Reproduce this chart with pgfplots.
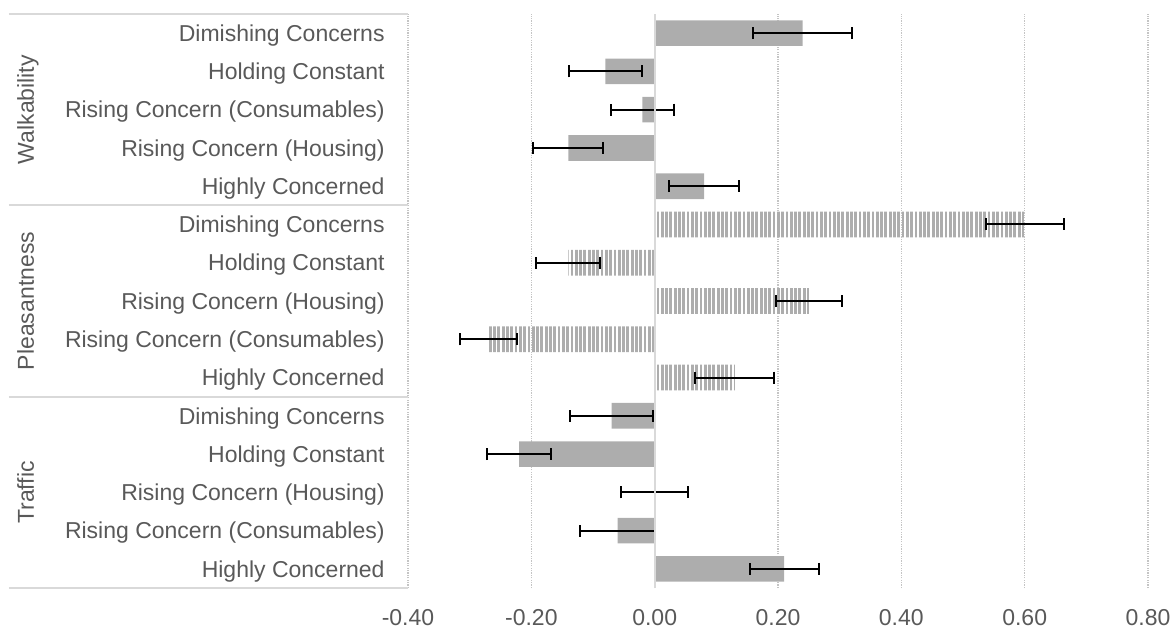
\documentclass[border=0pt]{standalone}
\usepackage{fontspec}
\setmainfont{Liberation Sans}
\usepackage{pgfplots}
\pgfplotsset{compat=1.18}
\usetikzlibrary{patterns.meta}
\definecolor{barcol}{HTML}{ADADAD}
\definecolor{txtcol}{HTML}{595959}
\definecolor{gridcol}{HTML}{C4C4C4}
\definecolor{sepcol}{HTML}{D9D9D9}
\pgfplotstableread{
y v e
14 0.24 0.080
13 -0.08 0.059
12 -0.02 0.051
11 -0.14 0.057
10 0.08 0.056
4 -0.07 0.067
3 -0.22 0.052
2 0.00 0.054
1 -0.06 0.061
0 0.21 0.056
}\solid
\pgfplotstableread{
y v e
9 0.60 0.063
8 -0.14 0.052
7 0.25 0.053
6 -0.27 0.046
5 0.13 0.064
}\striped
\newcommand{\lblfont}{\fontsize{11.5}{13.8}\selectfont}
\begin{document}
\begin{tikzpicture}
\useasboundingbox (-204pt,-20pt) rectangle (384pt,294pt);
\begin{axis}[
  at={(0,0)}, anchor=south west,
  scale only axis, width=370pt, height=287pt,
  xmin=-0.4, xmax=0.8, ymin=-0.5, ymax=14.5,
  xtick={-0.4,-0.2,0,0.2,0.4,0.6,0.8},
  ytick={0,1,2,3,4,5,6,7,8,9,10,11,12,13,14},
  yticklabels={Highly Concerned, Rising Concern (Consumables), Rising Concern (Housing), Holding Constant, Dimishing Concerns,
    Highly Concerned, Rising Concern (Consumables), Rising Concern (Housing), Holding Constant, Dimishing Concerns,
    Highly Concerned, Rising Concern (Housing), Rising Concern (Consumables), Holding Constant, Dimishing Concerns},
  axis line style={draw=none},
  major tick length=0pt,
  xmajorgrids,
  grid style={gridcol, line width=0.6pt, dash pattern=on 0.6pt off 0.6pt},
  clip=false,
  /pgf/number format/assume math mode=true,
  tick label style={font=\lblfont, text=txtcol},
  xticklabel style={/pgf/number format/fixed, /pgf/number format/fixed zerofill, /pgf/number format/precision=2, anchor=base, yshift=-18.5pt},
  yticklabel style={anchor=base east, inner sep=0pt, xshift=-11.5pt, yshift=-4.1pt},
]
\addplot[xbar, bar width=0.67, bar shift=0pt, fill=barcol, draw=none,
  error bars/.cd, x dir=both, x explicit,
  error bar style={black, line width=1pt, solid},
  error mark options={black, line width=1pt, mark size=3pt, rotate=90}]
  table[x=v, y=y, x error=e] {\solid};
\addplot[xbar, bar width=0.67, bar shift=0pt, draw=none,
  pattern={Lines[angle=90, distance=2.15pt, line width=1.4pt]}, pattern color=barcol,
  error bars/.cd, x dir=both, x explicit,
  error bar style={black, line width=1pt, solid},
  error mark options={black, line width=1pt, mark size=3pt, rotate=90}]
  table[x=v, y=y, x error=e] {\striped};
\draw[sepcol, line width=0.85pt] (axis cs:0,-0.5) -- (axis cs:0,14.5);
\draw[sepcol, line width=1pt] ([xshift=-199.5pt]axis cs:-0.4,14.5) -- (axis cs:-0.4,14.5);
\draw[sepcol, line width=1pt] ([xshift=-199.5pt]axis cs:-0.4,9.5) -- (axis cs:-0.4,9.5);
\draw[sepcol, line width=1pt] ([xshift=-199.5pt]axis cs:-0.4,4.5) -- (axis cs:-0.4,4.5);
\draw[sepcol, line width=1pt] ([xshift=-199.5pt]axis cs:-0.4,-0.5) -- (axis cs:-0.4,-0.5);
\node[rotate=90, anchor=base, text=txtcol, font=\lblfont] at ([xshift=-187pt]axis cs:-0.4,12) {Walkability};
\node[rotate=90, anchor=base, text=txtcol, font=\lblfont] at ([xshift=-187pt]axis cs:-0.4,7) {Pleasantness};
\node[rotate=90, anchor=base, text=txtcol, font=\lblfont] at ([xshift=-187pt]axis cs:-0.4,2) {Traffic};
\end{axis}
\end{tikzpicture}
\end{document}
